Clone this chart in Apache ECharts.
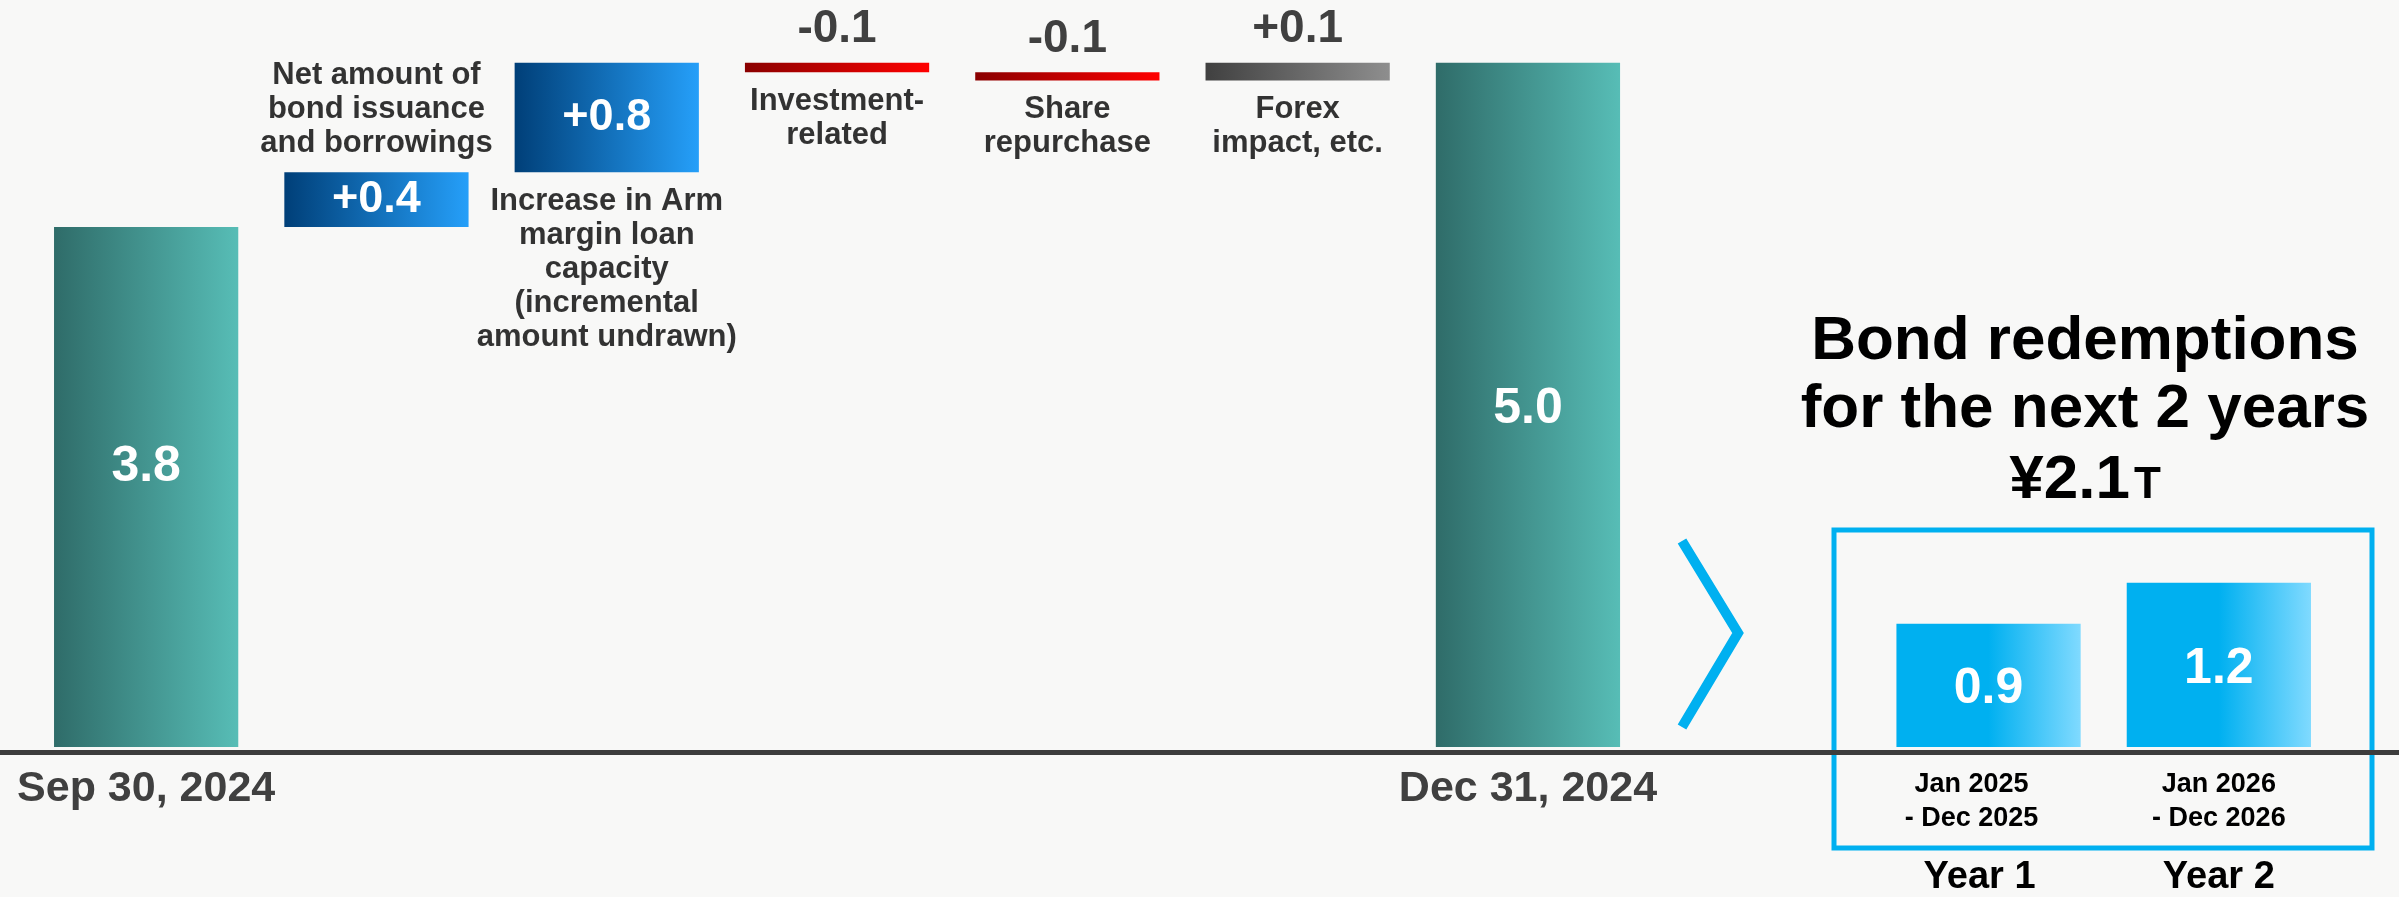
<!DOCTYPE html>
<html><head><meta charset="utf-8">
<script src="https://cdn.jsdelivr.net/npm/echarts@6/dist/echarts.min.js"></script>
<style>html,body{margin:0;padding:0;background:#f8f8f7}#c{width:2399px;height:897px}</style>
</head><body><div id="c"></div>
<script>
// ---- data ----
const categories = ['Sep 30, 2024', 'Net amount of bond issuance and borrowings', 'Increase in Arm margin loan capacity', 'Investment-related', 'Share repurchase', 'Forex impact, etc.', 'Dec 31, 2024', '', 'Year 1', 'Year 2'];
const startValue = 3.8;
const endValue = 5.0;
const changeValues = [0.4, 0.8, -0.07, -0.06, 0.13];
const changeLabels = ['+0.4', '+0.8', '-0.1', '-0.1', '+0.1'];
const changeDescriptions = ['Net amount of\nbond issuance\nand borrowings', 'Increase in Arm\nmargin loan\ncapacity\n(incremental\namount undrawn)', 'Investment-\nrelated', 'Share\nrepurchase', 'Forex\nimpact, etc.'];
const redemptionValues = [0.9, 1.2];
const redemptionPeriods = ['Jan 2025\n- Dec 2025', 'Jan 2026\n- Dec 2026'];
const redemptionTitle = ['Bond redemptions', 'for the next 2 years', '¥2.1', 'T'];

// ---- styles ----
const FONT = '"Liberation Sans Narrow", "Arial Narrow", "Liberation Sans", Arial, sans-serif';
const grad = (a, b, mid) => ({type: 'linear', x: 0, y: 0, x2: 1, y2: 0, colorStops: mid === undefined ? [{offset: 0, color: a}, {offset: 1, color: b}] : [{offset: 0, color: a}, {offset: mid, color: a}, {offset: 1, color: b}]});
const teal = grad('#2f6c69', '#57bdb6');
const blue = grad('#003f78', '#259ff9');
const red = grad('#8a0000', '#ff0000');
const gray = grad('#404040', '#8e8e8e');
const sky = grad('#00b0f0', '#80daff', 0.5);

// ---- waterfall build ----
const base = [], bars = [], desc = [];
let running = startValue;
base.push(0);
bars.push({value: startValue, itemStyle: {color: teal}, label: {show: true, position: 'inside', offset: [0, -20], formatter: startValue.toFixed(1), color: '#fff', fontSize: 50}});
changeValues.forEach((v, i) => {
  let b;
  if (v >= 0) { b = running; running += v; } else { running += v; b = running; }
  base.push(b);
  const big = Math.abs(v) >= 0.3;
  const color = v >= 0 ? (big ? blue : gray) : red;
  bars.push({value: Math.abs(v), itemStyle: {color},
    label: big ? {show: true, position: 'inside', formatter: changeLabels[i], color: '#fff', fontSize: 45}
               : {show: true, position: 'top', distance: 10, formatter: changeLabels[i], color: '#404040', fontSize: 46}});
  const above = i === 0;
  desc.push({value: [i + 1, above ? b + Math.abs(v) : b],
    label: {show: true, position: above ? 'top' : 'bottom', distance: 12, formatter: changeDescriptions[i]}});
});
base.push(0);
bars.push({value: endValue, itemStyle: {color: teal}, label: {show: true, position: 'inside', offset: [0, 4], formatter: endValue.toFixed(1), color: '#fff', fontSize: 50}});
base.push('-'); bars.push('-');
redemptionValues.forEach(v => {
  base.push(0);
  bars.push({value: v, itemStyle: {color: sky}, label: {show: true, position: 'inside', offset: [0, 4], formatter: v.toFixed(1), color: '#fff', fontSize: 50}});
});

const chart = echarts.init(document.getElementById('c'));
const option = {
  backgroundColor: '#f8f8f7',
  textStyle: {fontFamily: FONT, fontWeight: 'bold'},
  animation: false,
  title: {
    left: 2080, top: 303, textAlign: 'center',
    text: `{a|${redemptionTitle[0]}}\n{a|${redemptionTitle[1]}}\n{c|${redemptionTitle[2]}}{b|${redemptionTitle[3]}}`,
    textStyle: {rich: {
      a: {fontFamily: FONT, fontWeight: 'bold', fontSize: 62, lineHeight: 68, color: '#000'},
      c: {fontFamily: FONT, fontWeight: 'bold', fontSize: 62, lineHeight: 68, color: '#000', verticalAlign: 'bottom'},
      b: {fontFamily: FONT, fontWeight: 'bold', fontSize: 44, lineHeight: 68, color: '#000', verticalAlign: 'bottom', padding: [0, 0, 4, 4]}
    }}
  },
  grid: [
    {left: 31, right: 65, top: 8, bottom: 145},
    {left: 0, right: 0, top: 8, bottom: 145}
  ],
  xAxis: [
    {type: 'category', data: categories, gridIndex: 0,
      axisLine: {show: false}, axisTick: {show: false},
      axisLabel: {interval: 0, margin: 21, verticalAlign: 'top',
        formatter: (val, idx) => {
          if (idx === 0 || idx === 6) return `{big|${val}}`;
          if (idx >= 8) {
            const p = redemptionPeriods[idx - 8].split('\n');
            const s = idx === 8 ? 'smL' : 'sm';
            const y = idx === 8 ? 'yrL' : 'yr';
            return `{${s}|${p[0]}}\n{${s}|${p[1]}}\n{${y}|${val}}`;
          }
          return '';
        },
        rich: {
          big: {fontFamily: FONT, fontWeight: 'bold', fontSize: 43, lineHeight: 42, color: '#404040'},
          sm: {fontFamily: FONT, fontWeight: 'bold', fontSize: 27, lineHeight: 34, color: '#000'},
          smL: {fontFamily: FONT, fontWeight: 'bold', fontSize: 27, lineHeight: 34, color: '#000', padding: [0, 34, 0, 0]},
          yr: {fontFamily: FONT, fontWeight: 'bold', fontSize: 38, lineHeight: 84, color: '#000'},
          yrL: {fontFamily: FONT, fontWeight: 'bold', fontSize: 38, lineHeight: 84, color: '#000', padding: [0, 18, 0, 0]}
        }}},
    {type: 'value', gridIndex: 1, min: 0, max: 1, z: 10,
      axisLine: {show: true, lineStyle: {color: '#3d3d3d', width: 5}},
      axisTick: {show: false}, axisLabel: {show: false}, splitLine: {show: false}}
  ],
  yAxis: [
    {type: 'value', gridIndex: 0, min: 0, max: 5.4, show: false},
    {type: 'value', gridIndex: 1, min: 0, max: 1, show: false}
  ],
  series: [
    {type: 'bar', stack: 'w', data: base, barWidth: '80%', itemStyle: {color: 'transparent'}, silent: true},
    {type: 'bar', stack: 'w', data: bars, barWidth: '80%',
      label: {fontFamily: FONT, fontWeight: 'bold'}},
    {type: 'scatter', data: desc, symbolSize: 0, silent: true,
      label: {fontFamily: FONT, fontWeight: 'bold', fontSize: 31, lineHeight: 34, color: '#000', align: 'center'}}
  ],
  graphic: [
    {type: 'polyline', shape: {points: [[1682, 541], [1738, 633], [1682, 727]]},
      style: {stroke: '#00b0f0', lineWidth: 10, fill: null, lineJoin: 'miter'}},
    {type: 'rect', shape: {x: 1834, y: 530, width: 538, height: 318},
      style: {stroke: '#00b0f0', lineWidth: 5, fill: null}}
  ]
};
chart.setOption(option);
</script>
</body></html>
